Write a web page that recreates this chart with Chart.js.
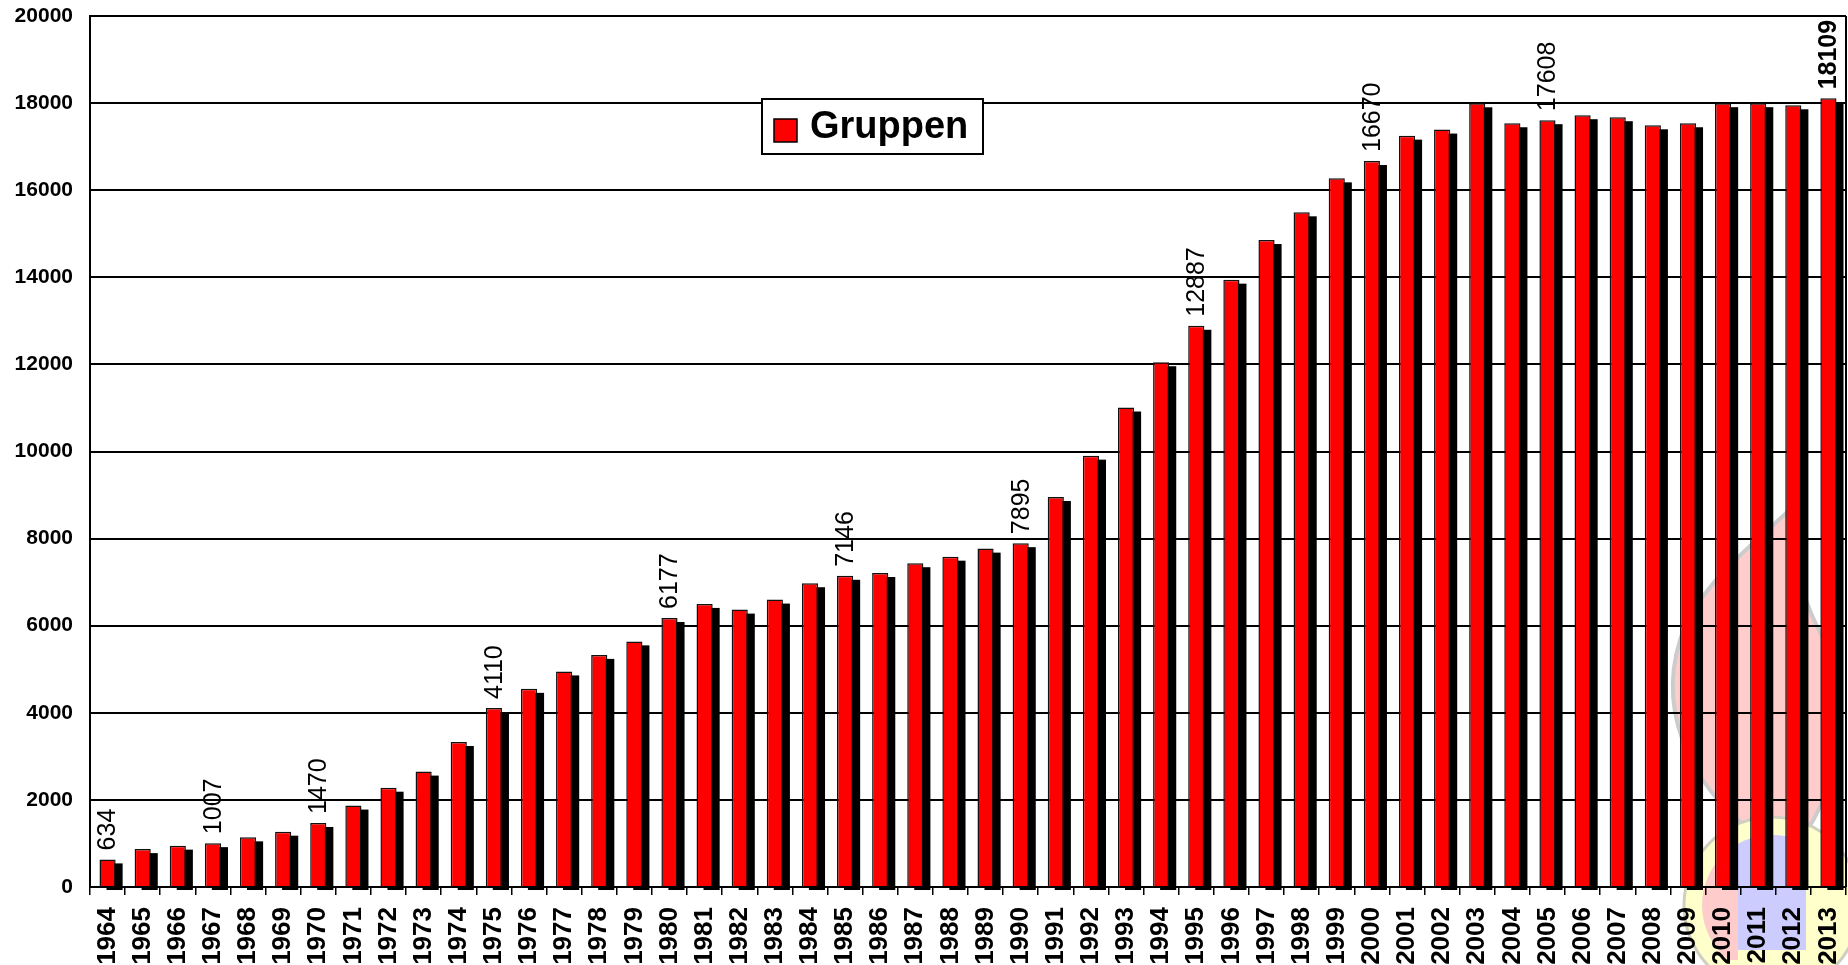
<!DOCTYPE html>
<html><head><meta charset="utf-8">
<script src="https://cdn.jsdelivr.net/npm/chart.js@4/dist/chart.umd.min.js"></script>
<style>html,body{margin:0;padding:0;background:#fff;overflow:hidden}</style>
</head><body><canvas id="c" width="1848" height="965"></canvas>
<script>
const years = ['1964','1965','1966','1967','1968','1969','1970','1971','1972','1973','1974','1975','1976','1977','1978','1979','1980','1981','1982','1983','1984','1985','1986','1987','1988','1989','1990','1991','1992','1993','1994','1995','1996','1997','1998','1999','2000','2001','2002','2003','2004','2005','2006','2007','2008','2009','2010','2011','2012','2013'];
const gruppen = [634, 870, 950, 1007, 1140, 1270, 1470, 1870, 2280, 2650, 3330, 4110, 4550, 4950, 5330, 5640, 6177, 6500, 6370, 6600, 6975, 7146, 7210, 7435, 7585, 7770, 7895, 8955, 9905, 11010, 12050, 12887, 13946, 14856, 15492, 16272, 16670, 17253, 17392, 17995, 17537, 17608, 17722, 17676, 17490, 17537, 17998, 17998, 17950, 18109];
const yTicks = [0,2000,4000,6000,8000,10000,12000,14000,16000,18000,20000];
const labelYears = ['1964','1967','1970','1975','1980','1985','1990','1995','2000','2005','2013'];
const boldLabelYears = ['2013'];
const seriesName = 'Gruppen';
const barColor = '#ff0000';

const FONT = "'Liberation Sans', Arial, Helvetica, sans-serif";

// faint emblem watermark in the lower right corner (background decoration)
const watermarkPlugin = {
  id: 'watermark',
  beforeDraw(chart) {
    const c = chart.ctx;
    c.save();
    // flame
    c.beginPath();
    c.moveTo(1765, 840);
    c.bezierCurveTo(1700, 800, 1655, 720, 1680, 640);
    c.bezierCurveTo(1700, 580, 1760, 540, 1800, 500);
    c.bezierCurveTo(1790, 560, 1800, 600, 1830, 650);
    c.bezierCurveTo(1850, 700, 1840, 790, 1800, 840);
    c.closePath();
    c.fillStyle = '#ffcccc'; c.fill();
    c.strokeStyle = '#cccccc'; c.lineWidth = 4; c.stroke();
    // ring
    c.beginPath(); c.arc(1772, 905, 88, 0, Math.PI * 2);
    c.fillStyle = '#ffffcc'; c.fill();
    c.strokeStyle = '#d0d0c0'; c.lineWidth = 3; c.stroke();
    c.save();
    c.beginPath(); c.arc(1772, 905, 70, 0, Math.PI * 2); c.clip();
    c.fillStyle = '#ccccff'; c.fillRect(1738, 790, 68, 160);
    c.fillStyle = '#ffcccc'; c.fillRect(1702, 860, 36, 100);
    c.restore();
    c.restore();
  }
};

// black drop shadow behind each bar, placed from the bar elements' own geometry
const shadowPlugin = {
  id: 'barShadow',
  beforeDatasetsDraw(chart) {
    const c = chart.ctx;
    const meta = chart.getDatasetMeta(0);
    c.save();
    c.fillStyle = '#000';
    meta.data.forEach(bar => {
      const p = bar.getProps(['x', 'y', 'base', 'width'], true);
      const left = p.x - p.width / 2;
      c.fillRect(left + 7, p.y + 4, p.width, p.base - p.y);
    });
    c.restore();
  }
};

const decorPlugin = {
  id: 'decor',
  afterDraw(chart) {
    const c = chart.ctx, a = chart.chartArea;
    c.save();
    c.strokeStyle = '#000'; c.lineWidth = 2;
    c.beginPath(); c.moveTo(a.right, a.top); c.lineTo(a.right, a.bottom); c.stroke();
    // value labels
    const meta = chart.getDatasetMeta(0);
    meta.data.forEach((bar, i) => {
      if (!labelYears.includes(years[i])) return;
      const bold = boldLabelYears.includes(years[i]);
      c.save();
      c.translate(bar.x, bar.y - 9);
      c.rotate(-Math.PI / 2);
      c.font = (bold ? 'bold ' : '') + '25px ' + FONT;
      c.textAlign = 'left'; c.textBaseline = 'middle';
      c.fillStyle = '#000';
      c.fillText(String(gruppen[i]), 0, 1);
      c.restore();
    });
    // legend
    const lx = 762, ly = 99, lw = 221, lh = 55;
    c.fillStyle = '#fff'; c.fillRect(lx, ly, lw, lh);
    c.strokeStyle = '#000'; c.lineWidth = 2; c.strokeRect(lx, ly, lw, lh);
    c.fillStyle = chart.data.datasets[0].backgroundColor;
    c.fillRect(lx + 12, ly + 20, 23, 23);
    c.lineWidth = 1.5; c.strokeRect(lx + 12, ly + 20, 23, 23);
    c.fillStyle = '#000';
    c.font = 'bold 38px ' + FONT;
    c.textAlign = 'left'; c.textBaseline = 'middle';
    c.fillText(chart.data.datasets[0].label, lx + 48, ly + 29);
    c.restore();
  }
};

new Chart(document.getElementById('c'), {
  type: 'bar',
  data: {
    labels: years,
    datasets: [{
      label: seriesName,
      data: gruppen,
      backgroundColor: barColor,
      borderColor: '#111',
      borderWidth: 1.5,
      barPercentage: 0.46,
      categoryPercentage: 1.0
    }]
  },
  options: {
    responsive: false,
    animation: false,
    devicePixelRatio: 1,
    layout: { padding: { top: 16, right: 2, left: 0, bottom: 0 } },
    plugins: { legend: { display: false }, tooltip: { enabled: false } },
    scales: {
      x: {
        grid: { display: true, drawOnChartArea: false, drawTicks: true, tickLength: 8, offset: true, color: '#000', lineWidth: 1.5 },
        border: { display: true, color: '#000', width: 2 },
        ticks: { minRotation: 90, maxRotation: 90, autoSkip: false, padding: 12, color: '#000', font: { family: FONT, size: 26, weight: 'bold' } },
        afterFit(s) { s.height = 78; s.paddingLeft = 0; s.paddingRight = 0; }
      },
      y: {
        min: 0, max: 20000,
        afterBuildTicks(s) { s.ticks = yTicks.map(v => ({ value: v })); },
        ticks: { padding: 17, color: '#000', font: { family: FONT, size: 21, weight: 'bold' }, callback: v => String(v) },
        grid: { color: '#000', lineWidth: 2, drawTicks: false },
        border: { display: true, color: '#000', width: 2 },
        afterFit(s) { s.width = 90; s.paddingTop = 0; s.paddingBottom = 0; }
      }
    }
  },
  plugins: [watermarkPlugin, shadowPlugin, decorPlugin]
});
</script>
</body></html>
